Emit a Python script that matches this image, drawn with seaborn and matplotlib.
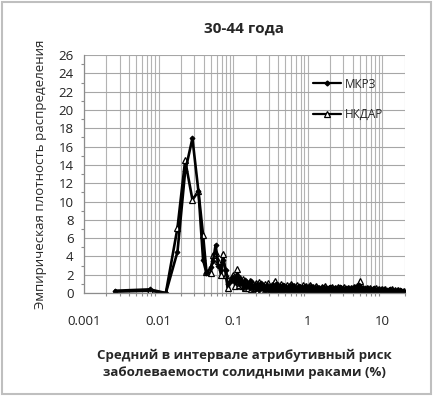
import numpy as np
import pandas as pd
import seaborn as sns
import matplotlib.pyplot as plt
from matplotlib.lines import Line2D
from matplotlib.patches import Rectangle
from matplotlib.ticker import LogLocator, MultipleLocator, FixedFormatter, FixedLocator

# bin centres (%), peak region
x_peak = [0.0026, 0.0076, 0.0125, 0.0179, 0.0227, 0.0284, 0.0342, 0.0395, 0.0438, 0.0502,
          0.0536, 0.058, 0.063, 0.0684, 0.073, 0.0797, 0.084, 0.093, 0.1, 0.107,
          0.114, 0.12, 0.125]
mkrz_peak = [0.25, 0.4, 0.0, 4.5, 13.3, 16.9, 11.1, 3.6, 2.2, 2.8,
             3.5, 5.2, 3.0, 2.5, 3.6, 2.5, 1.0, 1.3, 1.8, 1.2,
             2.0, 1.0, 1.5]
nkdar_peak = [0.15, 0.25, 0.0, 7.1, 14.5, 10.2, 11.1, 6.3, 2.3, 2.2,
              4.2, 4.4, 3.5, 2.0, 4.3, 2.0, 0.6, 1.5, 2.0, 0.8,
              2.6, 0.9, 1.6]

# bin centres (%), long tail
x_tail = [0.13, 0.137, 0.143, 0.15, 0.158, 0.166, 0.174, 0.183, 0.192, 0.201,
          0.211, 0.222, 0.233, 0.245, 0.257, 0.27, 0.283, 0.297, 0.312, 0.328,
          0.344, 0.361, 0.379, 0.398, 0.418, 0.439, 0.461, 0.484, 0.508, 0.534,
          0.56, 0.588, 0.618, 0.649, 0.681, 0.715, 0.751, 0.789, 0.828, 0.87,
          0.913, 0.959, 1.007, 1.057, 1.11, 1.165, 1.224, 1.285, 1.349, 1.417,
          1.488, 1.562, 1.64, 1.722, 1.808, 1.899, 1.994, 2.093, 2.198, 2.308,
          2.423, 2.544, 2.672, 2.805, 2.945, 3.093, 3.247, 3.41, 3.58, 3.759,
          3.947, 4.145, 4.352, 4.57, 4.798, 5.038, 5.29, 5.554, 5.832, 6.124,
          6.43, 6.751, 7.089, 7.443, 7.815, 8.206, 8.617, 9.047, 9.5, 9.975,
          10.47, 11.0, 11.55, 12.13, 12.73, 13.37, 14.04, 14.74, 15.48, 16.25,
          17.06, 17.92, 18.81, 19.5]
mkrz_tail = [1.2, 0.6, 1.4, 0.7, 1.1, 0.5, 1.3, 0.6, 0.9, 0.4,
             1.0, 0.3, 1.1, 0.5, 0.8, 0.2, 0.9, 0.3, 0.8, 0.1,
             0.9, 0.2, 1.0, 0.1, 0.8, 0.3, 0.9, 0.0, 0.7, 0.2,
             0.8, 0.1, 0.9, 0.2, 0.7, 0.0, 0.8, 0.2, 0.7, 0.1,
             0.8, 0.2, 0.7, 0.0, 0.8, 0.1, 0.6, 0.2, 0.7, 0.0,
             0.6, 0.1, 0.7, 0.2, 0.6, 0.0, 0.7, 0.1, 0.5, 0.2,
             0.6, 0.0, 0.7, 0.1, 0.5, 0.2, 0.6, 0.0, 0.5, 0.1,
             0.6, 0.2, 0.7, 0.1, 0.9, 0.3, 0.6, 0.1, 0.5, 0.0,
             0.5, 0.1, 0.4, 0.0, 0.5, 0.1, 0.4, 0.0, 0.4, 0.1,
             0.4, 0.0, 0.3, 0.1, 0.4, 0.0, 0.3, 0.1, 0.3, 0.0,
             0.3, 0.1, 0.2, 0.0]
nkdar_tail = [0.8, 1.5, 0.5, 1.2, 0.6, 1.3, 0.4, 1.0, 0.5, 1.1,
              0.2, 1.2, 0.3, 0.9, 0.1, 1.0, 0.2, 1.1, 0.0, 0.9,
              0.1, 1.3, 0.0, 0.9, 0.2, 1.0, 0.0, 0.8, 0.1, 0.9,
              0.0, 1.0, 0.1, 0.8, 0.0, 0.9, 0.1, 0.7, 0.0, 0.9,
              0.1, 0.8, 0.0, 0.9, 0.2, 0.7, 0.0, 0.8, 0.1, 0.6,
              0.0, 0.7, 0.1, 0.8, 0.0, 0.6, 0.1, 0.7, 0.0, 0.6,
              0.1, 0.7, 0.0, 0.6, 0.1, 0.7, 0.0, 0.6, 0.1, 0.5,
              0.0, 0.7, 0.1, 0.8, 0.2, 1.3, 0.1, 0.6, 0.0, 0.5,
              0.1, 0.5, 0.0, 0.4, 0.1, 0.5, 0.0, 0.4, 0.1, 0.4,
              0.0, 0.4, 0.1, 0.3, 0.0, 0.4, 0.0, 0.3, 0.1, 0.3,
              0.0, 0.2, 0.1, 0.2]

series_names = ['МКРЗ', 'НКДАР']

x_all = x_peak + x_tail
df = pd.DataFrame({
    'x': x_all * 2,
    'y': mkrz_peak + mkrz_tail + nkdar_peak + nkdar_tail,
    'series': [series_names[0]] * len(x_all) + [series_names[1]] * len(x_all),
})

sns.set_theme(style='white')
plt.rcParams['font.family'] = ['Open Sans', 'DejaVu Sans']

fig = plt.figure(figsize=(4.33, 3.96), dpi=100)
ax = fig.add_axes([0.194, 0.26, 0.741, 0.601])

d1 = df[df['series'] == series_names[0]]
d2 = df[df['series'] == series_names[1]]
# НКДАР first, МКРЗ line on top (dense tail reads as a dark band)
sns.lineplot(data=d2, x='x', y='y', ax=ax, color='black', lw=1.9, sort=False,
             estimator=None, marker='^', markersize=4.5, markerfacecolor='white',
             markeredgecolor='black', markeredgewidth=0.9)
sns.lineplot(data=d1, x='x', y='y', ax=ax, color='black', lw=1.9, sort=False,
             estimator=None, marker='D', markersize=2.5, markeredgecolor='black')

ax.set_xscale('log')
ax.set_xlim(0.001, 20)
ax.set_ylim(0, 26)
ax.yaxis.set_major_locator(MultipleLocator(2))
ax.yaxis.set_minor_locator(MultipleLocator(1))
ax.xaxis.set_major_locator(FixedLocator([0.001, 0.01, 0.1, 1, 10]))
ax.xaxis.set_major_formatter(FixedFormatter(['0.001', '0.01', '0.1', '1', '10']))
ax.xaxis.set_minor_locator(LogLocator(base=10, subs=np.arange(2, 10), numticks=20))

ax.grid(True, which='major', axis='y', color='#a6a6a6', lw=0.8)
ax.grid(True, which='both', axis='x', color='#b3b3b3', lw=0.8)
ax.set_axisbelow(True)

for s in ['top', 'right']:
    ax.spines[s].set_visible(False)
for s in ['left', 'bottom']:
    ax.spines[s].set_color('#8c8c8c')
    ax.spines[s].set_linewidth(0.9)

ax.tick_params(axis='both', which='major', length=4, width=0.8, color='#8c8c8c',
               labelsize=9.5, labelcolor='#222222', direction='out')
ax.tick_params(axis='y', which='minor', length=2.5, width=0.8, color='#8c8c8c', left=True)
ax.tick_params(axis='x', which='minor', length=2.5, width=0.8, color='#8c8c8c', bottom=True)
ax.tick_params(axis='x', which='major', pad=12)

ax.set_xlabel('Средний в интервале атрибутивный риск\nзаболеваемости солидными раками (%)',
              fontsize=9.5, fontweight='bold', labelpad=15, linespacing=1.35)
ax.set_ylabel('Эмпирическая плотность распределения', fontsize=9.5, labelpad=8)
ax.set_title('30-44 года', fontsize=11, fontweight='bold', pad=16)

handles = [
    Line2D([], [], color='black', lw=1.6, marker='D', markersize=2.5),
    Line2D([], [], color='black', lw=1.6, marker='^', markersize=4.5,
           markerfacecolor='white', markeredgewidth=0.9),
]
ax.legend(handles, series_names, loc='upper left', bbox_to_anchor=(0.68, 0.95),
          frameon=False, fontsize=8.5, labelspacing=1.5, handlelength=2.4,
          handletextpad=0.3)

fig.patches.append(Rectangle((0.004, 0.004), 0.992, 0.992, transform=fig.transFigure,
                             fill=False, edgecolor='#bfbfbf', lw=1.5))

fig.savefig('out.png', dpi=100, facecolor='white')
